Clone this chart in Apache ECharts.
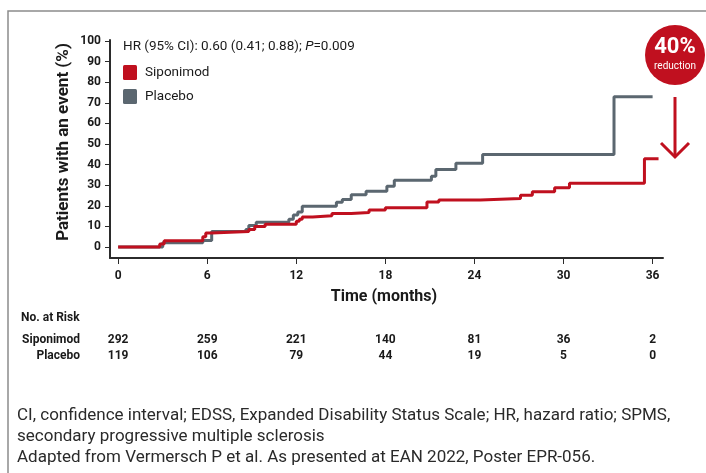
<!DOCTYPE html>
<html>
<head>
<meta charset="utf-8">
<script src="https://cdn.jsdelivr.net/npm/echarts@6/dist/echarts.min.js"></script>
<style>
html,body{margin:0;padding:0;background:#fff;}
#c{width:706px;height:473px;}
</style>
</head>
<body>
<div id="c"></div>
<script>
// ---- data ----
const xTicks = [0, 6, 12, 18, 24, 30, 36];
const yTicks = [0, 10, 20, 30, 40, 50, 60, 70, 80, 90, 100];
const siponimod = [[0,0],[2.8,1.5],[3.1,3.0],[5.7,5.0],[5.9,6.8],[6.3,7.5],[8.8,8.5],[9.2,10.0],[9.9,11.0],[12.0,12.5],[12.2,13.5],[12.4,14.6],[13.1,15.2],[14.4,16.2],[15.7,16.8],[16.9,17.9],[18.0,19.1],[20.8,21.8],[21.6,22.8],[24.4,23.6],[27.1,25.1],[27.9,26.8],[29.4,28.7],[30.4,31.0],[35.45,42.8],[36.4,42.8]];
const placebo = [[0,0],[3.0,2.0],[5.7,3.2],[6.3,7.5],[8.6,8.5],[8.8,10.4],[9.3,12.0],[11.5,13.5],[11.8,15.5],[12.1,17.0],[12.4,19.8],[14.7,21.7],[15.1,23.0],[15.7,25.4],[16.7,27.0],[18.1,29.5],[18.6,32.4],[21.1,34.3],[21.4,37.6],[22.75,40.7],[24.55,44.9],[33.4,73.0],[36.0,73.0]];
const riskSiponimod = [292, 259, 221, 140, 81, 36, 2];
const riskPlacebo = [119, 106, 79, 44, 19, 5, 0];
const seriesNames = ['Siponimod', 'Placebo'];
const hrText = 'HR (95% CI): 0.60 (0.41; 0.88); ';
const footnotes = [
  'CI, confidence interval; EDSS, Expanded Disability Status Scale; HR, hazard ratio; SPMS,',
  'secondary progressive multiple sclerosis',
  'Adapted from Vermersch P et al. As presented at EAN 2022, Poster EPR-056.'
];

const RED = '#c0101f';
const GREY = '#5b6770';
const FONT = 'Roboto, "DejaVu Sans", sans-serif';

const chart = echarts.init(document.getElementById('c'), null, {renderer: 'canvas'});
const option = {
  animation: false,
  backgroundColor: '#fff',
  grid: {left: 110, right: 43, top: 40, bottom: 215, containLabel: false},
  xAxis: {
    type: 'value', min: -0.55, max: 36.7,
    axisLine: {show: true, onZero: false, lineStyle: {color: '#2b2b2b', width: 2}},
    axisTick: {show: true, customValues: xTicks, length: 6, lineStyle: {color: '#2b2b2b', width: 1}},
    axisLabel: {customValues: xTicks, margin: 12, color: '#1a1a1a', fontWeight: 'bold', fontSize: 12, fontFamily: FONT},
    splitLine: {show: false}
  },
  yAxis: {
    type: 'value', min: -5.35, max: 100.5,
    axisLine: {show: true, onZero: false, lineStyle: {color: '#2b2b2b', width: 2}},
    axisTick: {show: true, customValues: yTicks, length: 5, lineStyle: {color: '#2b2b2b', width: 1}},
    axisLabel: {customValues: yTicks, margin: 9, color: '#1a1a1a', fontWeight: 'bold', fontSize: 12, fontFamily: FONT},
    splitLine: {show: false}
  },
  series: [
    {name: seriesNames[1], type: 'line', step: 'end', data: placebo, showSymbol: false, lineStyle: {color: GREY, width: 3}, z: 2},
    {name: seriesNames[0], type: 'line', step: 'end', data: siponimod, showSymbol: false, lineStyle: {color: RED, width: 3}, z: 3}
  ]
};
chart.setOption(option);

const px = t => chart.convertToPixel({xAxisIndex: 0}, t);
const g = [];
// frame
g.push({type: 'polyline', shape: {points: [[8, 473], [8, 11], [706, 11]]}, style: {stroke: '#8c8c8c', lineWidth: 1.5, fill: null}, silent: true});
// y axis title
g.push({type: 'text', x: 64, y: 142, rotation: Math.PI / 2,
  style: {text: 'Patients with an event (%)', font: 'bold 17px ' + FONT, fill: '#1a1a1a', align: 'center', verticalAlign: 'middle'}});
// x axis title
g.push({type: 'text', x: 384, y: 297,
  style: {text: 'Time (months)', font: 'bold 16px ' + FONT, fill: '#1a1a1a', align: 'center', verticalAlign: 'middle'}});
// HR annotation
g.push({type: 'text', x: 123, y: 47,
  style: {text: '{a|' + hrText + '}{i|P}{a|=0.009}', verticalAlign: 'middle',
    rich: {a: {font: '13.5px ' + FONT, fill: '#1a1a1a'}, i: {font: 'italic 13.5px ' + FONT, fill: '#1a1a1a'}}}});
// legend
g.push({type: 'rect', shape: {x: 123, y: 65, width: 14, height: 15, r: 1.5}, style: {fill: RED}});
g.push({type: 'text', x: 145, y: 73, style: {text: seriesNames[0], font: '13.5px ' + FONT, fill: '#1a1a1a', verticalAlign: 'middle'}});
g.push({type: 'rect', shape: {x: 123, y: 89, width: 14, height: 15, r: 1.5}, style: {fill: GREY}});
g.push({type: 'text', x: 145, y: 97, style: {text: seriesNames[1], font: '13.5px ' + FONT, fill: '#1a1a1a', verticalAlign: 'middle'}});
// badge
g.push({type: 'circle', shape: {cx: 675, cy: 55, r: 30}, style: {fill: RED}});
g.push({type: 'text', x: 675, y: 47, style: {text: '40%', font: 'bold 22px ' + FONT, fill: '#fff', align: 'center', verticalAlign: 'middle'}});
g.push({type: 'text', x: 675, y: 66, style: {text: 'reduction', font: '10px ' + FONT, fill: '#fff', align: 'center', verticalAlign: 'middle'}});
// arrow
g.push({type: 'line', shape: {x1: 675, y1: 97, x2: 675, y2: 157}, style: {stroke: RED, lineWidth: 3}});
g.push({type: 'polyline', shape: {points: [[661, 143], [675, 157], [689, 143]]}, style: {stroke: RED, lineWidth: 3, fill: null}});
// risk table
const TF = 'bold 12px ' + FONT;
g.push({type: 'text', x: 21, y: 318, style: {text: 'No. at Risk', font: TF, fill: '#1a1a1a', verticalAlign: 'middle'}});
g.push({type: 'text', x: 80, y: 340, style: {text: seriesNames[0], font: TF, fill: '#1a1a1a', align: 'right', verticalAlign: 'middle'}});
g.push({type: 'text', x: 80, y: 356, style: {text: seriesNames[1], font: TF, fill: '#1a1a1a', align: 'right', verticalAlign: 'middle'}});
xTicks.forEach((t, i) => {
  g.push({type: 'text', x: px(t), y: 340, style: {text: String(riskSiponimod[i]), font: TF, fill: '#1a1a1a', align: 'center', verticalAlign: 'middle'}});
  g.push({type: 'text', x: px(t), y: 356, style: {text: String(riskPlacebo[i]), font: TF, fill: '#1a1a1a', align: 'center', verticalAlign: 'middle'}});
});
// footnotes
footnotes.forEach((s, i) => {
  g.push({type: 'text', x: 17, y: 416 + i * 21, style: {text: s, font: '17px ' + FONT, fill: '#2a2a2a', verticalAlign: 'middle'}});
});
chart.setOption({graphic: g});
</script>
</body>
</html>
